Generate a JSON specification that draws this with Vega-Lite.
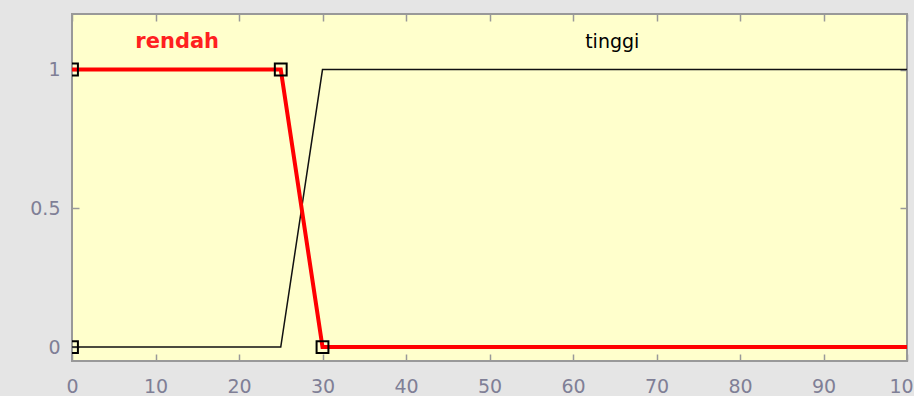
{
  "$schema": "https://vega.github.io/schema/vega-lite/v6.json",
  "width": 835,
  "height": 347,
  "autosize": {"type": "none"},
  "padding": {"left": 72, "top": 14, "right": 7, "bottom": 35},
  "background": "#e5e5e5",
  "config": {
    "view": {"fill": "#ffffcc", "stroke": "#999999", "strokeWidth": 2},
    "axis": {
      "domain": false,
      "grid": false,
      "tickColor": "#999999",
      "tickWidth": 1.5,
      "tickSize": -7,
      "labelFont": "DejaVu Sans",
      "labelFontSize": 19,
      "labelColor": "#7f7f96",
      "title": null
    }
  },
  "datasets": {
    "mf": [
      {"series": "tinggi", "x": 0, "y": 0},
      {"series": "tinggi", "x": 25, "y": 0},
      {"series": "tinggi", "x": 30, "y": 1},
      {"series": "tinggi", "x": 100, "y": 1},
      {"series": "rendah", "x": 0, "y": 1},
      {"series": "rendah", "x": 25, "y": 1},
      {"series": "rendah", "x": 30, "y": 0},
      {"series": "rendah", "x": 100, "y": 0}
    ],
    "params": [
      {"x": 0, "y": 0},
      {"x": 0, "y": 1},
      {"x": 25, "y": 1},
      {"x": 30, "y": 0}
    ],
    "labels": [
      {"name": "rendah", "x": 12.6, "y": 1.1},
      {"name": "tinggi", "x": 64.7, "y": 1.1}
    ]
  },
  "layer": [
    {
      "data": {"name": "mf"},
      "transform": [{"filter": "datum.series === 'tinggi'"}],
      "mark": {"type": "line", "color": "#111111", "strokeWidth": 1.5, "clip": true},
      "encoding": {
        "x": {"field": "x", "type": "quantitative", "scale": {"domain": [0, 100], "nice": false, "zero": false},
              "axis": {"orient": "bottom", "values": [0,10,20,30,40,50,60,70,80,90,100], "labelPadding": 23, "labelFlush": false}},
        "y": {"field": "y", "type": "quantitative", "scale": {"domain": [-0.05, 1.2], "nice": false, "zero": false},
              "axis": {"orient": "left", "values": [0, 0.5, 1], "format": "~g", "labelPadding": 19}}
      }
    },
    {
      "data": {"name": "mf"},
      "transform": [{"filter": "datum.series === 'rendah'"}],
      "mark": {"type": "line", "color": "#ff0000", "strokeWidth": 4, "clip": true},
      "encoding": {
        "x": {"field": "x", "type": "quantitative", "axis": {"orient": "top", "values": [0,10,20,30,40,50,60,70,80,90,100], "labels": false}},
        "y": {"field": "y", "type": "quantitative", "axis": {"orient": "right", "values": [0, 0.5, 1], "labels": false}}
      }
    },
    {
      "data": {"name": "params"},
      "mark": {"type": "point", "shape": "square", "filled": false, "opacity": 1, "stroke": "#000000", "strokeWidth": 2, "size": 140, "clip": true},
      "encoding": {
        "x": {"field": "x", "type": "quantitative", "axis": null},
        "y": {"field": "y", "type": "quantitative", "axis": null}
      }
    },
    {
      "data": {"name": "labels"},
      "transform": [{"filter": "datum.name === 'rendah'"}],
      "mark": {"type": "text", "font": "DejaVu Sans", "fontSize": 21, "fontWeight": "bold", "color": "#ff2020", "baseline": "middle", "align": "center"},
      "encoding": {
        "x": {"field": "x", "type": "quantitative", "axis": null},
        "y": {"field": "y", "type": "quantitative", "axis": null},
        "text": {"field": "name"}
      }
    },
    {
      "data": {"name": "labels"},
      "transform": [{"filter": "datum.name === 'tinggi'"}],
      "mark": {"type": "text", "font": "DejaVu Sans", "fontSize": 19, "color": "#000000", "baseline": "middle", "align": "center"},
      "encoding": {
        "x": {"field": "x", "type": "quantitative", "axis": null},
        "y": {"field": "y", "type": "quantitative", "axis": null},
        "text": {"field": "name"}
      }
    }
  ],
  "resolve": {"axis": {"x": "independent", "y": "independent"}}
}
